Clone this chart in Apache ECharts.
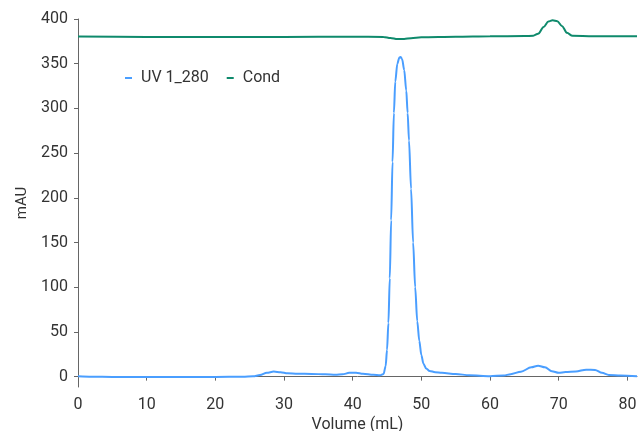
<!DOCTYPE html>
<html>
<head>
<meta charset="utf-8">
<script src="https://cdn.jsdelivr.net/npm/echarts@6/dist/echarts.min.js"></script>
<style>
  html, body { margin: 0; padding: 0; background: #fff; }
  #chart { width: 638px; height: 431px; }
</style>
</head>
<body>
<div id="chart"></div>
<script>
// Chromatogram: UV absorbance at 280 nm and conductivity versus elution volume
const seriesNames = ['UV 1_280', 'Cond'];

// [volume mL, mAU]
const uvTrace = [
  [0, 0.5], [2, 0], [5, -0.3], [10, -0.3], [15, -0.3], [20, -0.3], [24, -0.2],
  [25.5, 0.3], [26.5, 1.8], [27.5, 4.3], [28.5, 5.6], [29.5, 5.0], [30.5, 3.8],
  [32, 3.2], [34, 3.0], [36, 2.6], [37.5, 2.0], [38.5, 2.6], [39.5, 4.2],
  [40.5, 4.4], [41.5, 3.2], [43, 2.0], [44, 1.5], [44.5, 3], [44.8, 12],
  [45.0, 30], [45.2, 60], [45.4, 110], [45.6, 175], [45.8, 240], [46.0, 295],
  [46.2, 330], [46.5, 350], [46.8, 357], [47.0, 357.5], [47.2, 355], [47.5, 343],
  [47.8, 320], [48.0, 295], [48.2, 264], [48.5, 210], [48.8, 150], [49.1, 100],
  [49.4, 62], [49.7, 40], [50.0, 24], [50.3, 14.5], [50.7, 9], [51.2, 6.3],
  [52, 5], [53, 4.2], [55, 3], [57, 1.5], [60, 0.5], [62, 1.2], [63, 2.8],
  [64.5, 5.5], [66, 10.5], [67, 12.3], [68, 10.5], [69, 6], [70, 4.2], [71, 5.2],
  [72.5, 5.8], [74, 7.8], [75.3, 7.5], [76.3, 4.2], [77.3, 1.8], [79, 1.2], [81.4, 0.5]
];

// [volume mL, conductivity (plotted on the mAU scale)]
const condTrace = [
  [0, 380.3], [10, 380.0], [20, 379.8], [30, 380.0], [40, 380.1], [44.5, 380.0],
  [45.5, 378.8], [46.5, 377.5], [47.5, 377.6], [48.5, 378.6], [50, 379.6],
  [55, 380.2], [60, 380.7], [65, 380.9], [66.3, 381.3], [67, 383.5], [67.8, 391],
  [68.5, 397.2], [69.1, 398.5], [69.8, 397.5], [70.5, 392], [71.2, 384.5],
  [72, 381.2], [75, 380.8], [81.4, 380.8]
];

const xTicks = [0, 10, 20, 30, 40, 50, 60, 70, 80];
const yTicks = [0, 50, 100, 150, 200, 250, 300, 350, 400];

const textColor = '#333333';
const axisColor = '#666666';
const fontFamily = 'Roboto, "Noto Sans", sans-serif';

const chart = echarts.init(document.getElementById('chart'), null, { renderer: 'canvas' });

chart.setOption({
  animation: false,
  backgroundColor: '#ffffff',
  textStyle: { fontFamily: fontFamily },
  grid: { left: 78, right: 1, top: 19, bottom: 44, containLabel: false, outerBoundsMode: 'none' },
  legend: {
    left: 120,
    top: 65,
    icon: 'rect',
    itemWidth: 7,
    itemHeight: 2,
    itemGap: 18,
    textStyle: { fontSize: 16, color: textColor, fontFamily: fontFamily, padding: [0, 0, 0, 4] },
    data: seriesNames
  },
  xAxis: {
    type: 'value',
    min: 0,
    max: 81.4,
    name: 'Volume (mL)',
    nameLocation: 'middle',
    nameGap: 30,
    nameMoveOverlap: false,
    nameTextStyle: { fontSize: 16, color: textColor },
    axisLine: { show: true, lineStyle: { color: axisColor, width: 1 } },
    axisTick: { show: true, length: 4, lineStyle: { color: axisColor }, customValues: xTicks },
    axisLabel: { fontSize: 16, color: textColor, margin: 10, customValues: xTicks },
    splitLine: { show: false }
  },
  yAxis: {
    type: 'value',
    min: -11.6,
    max: 400,
    name: 'mAU',
    nameLocation: 'middle',
    nameGap: 48,
    nameMoveOverlap: false,
    nameTextStyle: { fontSize: 15, color: textColor },
    axisLine: { show: true, lineStyle: { color: axisColor, width: 1 } },
    axisTick: { show: true, length: 4, lineStyle: { color: axisColor }, customValues: yTicks },
    axisLabel: { fontSize: 16, color: textColor, margin: 10, customValues: yTicks },
    splitLine: { show: false }
  },
  series: [
    {
      name: seriesNames[0],
      type: 'line',
      data: uvTrace,
      showSymbol: false,
      smooth: 0.3,
      smoothMonotone: 'x',
      lineStyle: { color: '#4a9eff', width: 2 },
      itemStyle: { color: '#4a9eff' },
      z: 2
    },
    {
      name: seriesNames[1],
      type: 'line',
      data: condTrace,
      showSymbol: false,
      smooth: 0.3,
      smoothMonotone: 'x',
      lineStyle: { color: '#0f8a6c', width: 2 },
      itemStyle: { color: '#0f8a6c' },
      z: 3
    }
  ]
});
</script>
</body>
</html>
